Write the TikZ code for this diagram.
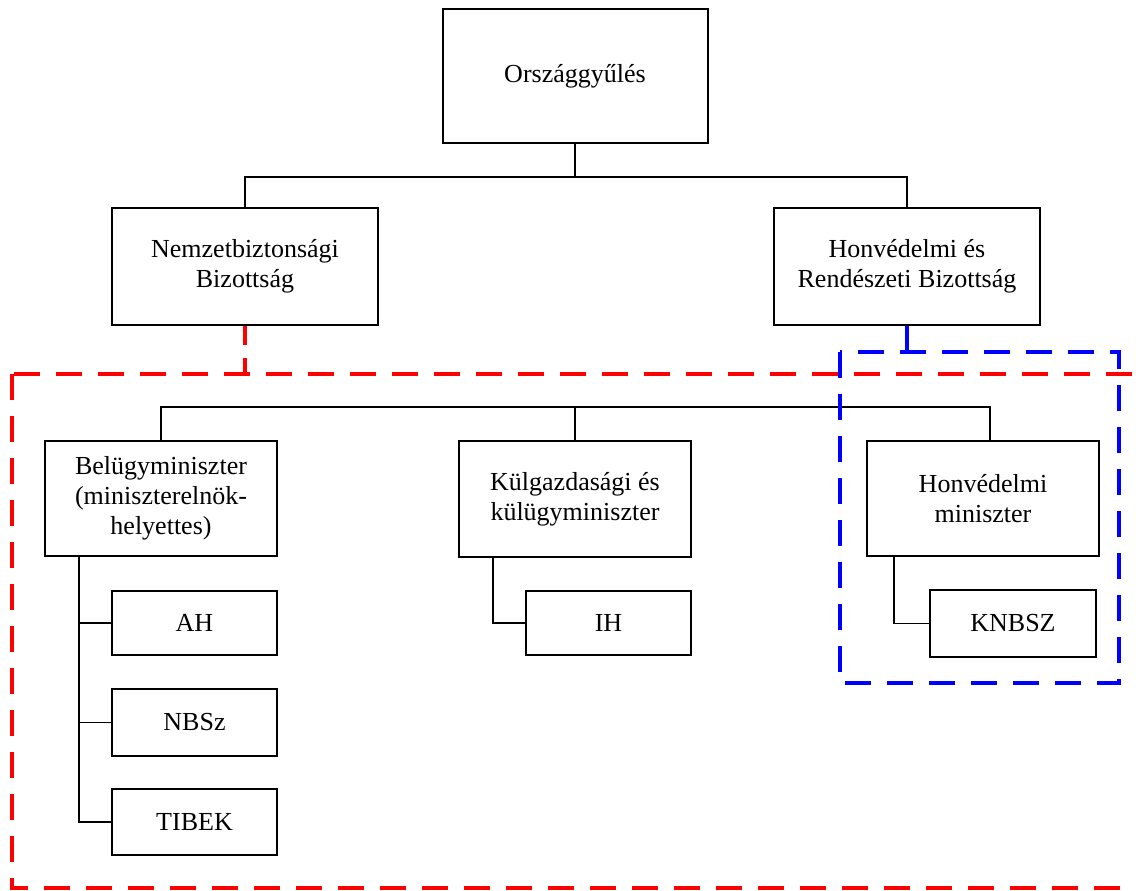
\documentclass[tikz,border=0pt]{standalone}
\usepackage{fontspec}
\setmainfont{Liberation Serif}
\begin{document}
\begin{tikzpicture}[x=0.75pt,y=-0.75pt,
  box/.style 2 args={draw=black, line width=1.5pt, minimum width=#1*0.75pt, minimum height=#2*0.75pt, inner sep=0pt, align=center, font=\fontsize{19.5}{22.5}\selectfont},
  conn/.style={draw=black, line width=1.1pt},
  reddash/.style={draw=red, line width=2.3pt, dash pattern=on 19.5pt off 12pt},
  bluedash/.style={draw=blue, line width=2.3pt, dash pattern=on 19.5pt off 12pt}]
\clip (0,0) rectangle (1136,890);
\fill[white] (0,0) rectangle (1136,890);
% top level
\node[box={265}{134}] (og) at (575,76) {Országgyűlés};
\node[box={266}{117}] (nb) at (245,266.5) {Nemzetbiztonsági\\Bizottság};
\node[box={266}{117}] (hrb) at (907,266.5) {Honvédelmi és\\Rendészeti Bizottság};
% ministers
\node[box={232}{115}] (bm) at (161,498.5) {Belügyminiszter\\(miniszterelnök-\\helyettes)};
\node[box={232}{116}] (km) at (575,499) {Külgazdasági és\\külügyminiszter};
\node[box={232}{115}] (hm) at (983,498.5) {Honvédelmi\\miniszter};
% services
\node[box={165}{64}] (ah) at (194.5,623) {AH};
\node[box={165}{67}] (nbsz) at (194.5,722.5) {NBSz};
\node[box={165}{66}] (tibek) at (194.5,822) {TIBEK};
\node[box={165}{64}] (ih) at (608.5,623) {IH};
\node[box={166}{67}] (knbsz) at (1013,623.5) {KNBSZ};
% coordinates
\coordinate (j1) at (575,177);
\coordinate (j2) at (575,407);
\coordinate (redtop) at (245,374);
\coordinate (bluetop) at (907,352);
% connectors level 1
\draw[conn] (og.south) -- (j1);
\draw[conn] (nb.north) |- (j1) -| (hrb.north);
% connectors level 2
\draw[conn] (bm.north) |- (j2) -| (km.north);
\draw[conn] (j2) -| ([xshift=5.25pt]hm.north);
% service connectors
\draw[conn] ([xshift=-61.5pt]bm.south) |- (tibek.west);
\draw[conn] ([xshift=-61.5pt]bm.south) |- (ah.west);
\draw[conn] ([xshift=-61.5pt]bm.south) |- (nbsz.west);
\draw[conn] ([xshift=-61.5pt]km.south) |- (ih.west);
\draw[conn] ([xshift=-66.75pt]hm.south) |- (knbsz.west);
% dashed groups
\draw[reddash] (12,374) rectangle (1150,888);
\draw[draw=red, line width=2.3pt, dash pattern=on 14pt off 10pt] (nb.south) -- (redtop);
\draw[bluedash] (840,352) rectangle (1119,683);
\draw[draw=blue, line width=2.3pt] (hrb.south) -- (bluetop);
\end{tikzpicture}
\end{document}
